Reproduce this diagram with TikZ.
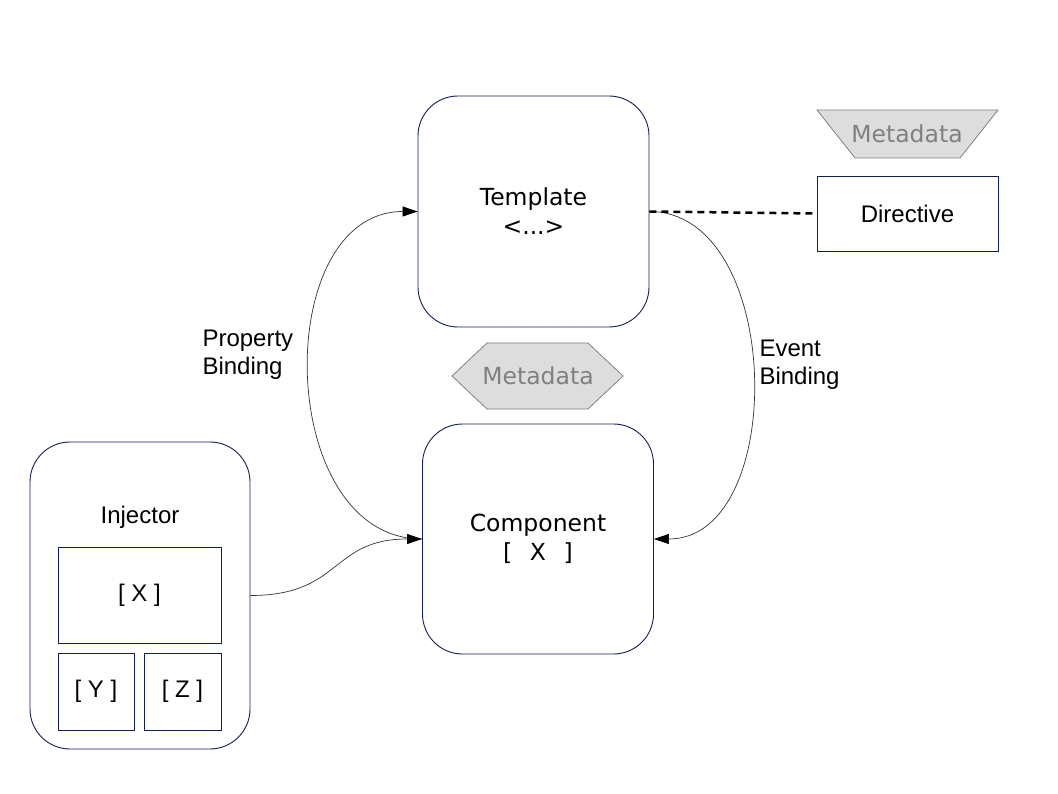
\documentclass[tikz,border=0pt]{standalone}
\usepackage{fontspec}
\setmainfont{Liberation Sans}
\newfontfamily\verafont{DejaVu Sans}
\usepackage{xcolor}
\usepackage{tikz}
\usetikzlibrary{calc,arrows.meta,positioning,shapes}
\definecolor{frame}{RGB}{20,28,96}
\definecolor{metafill}{RGB}{221,221,221}
\definecolor{metaline}{RGB}{128,128,128}

\tikzset{
  bigbox/.style={draw=frame,line width=0.9pt,rounded corners=40pt,align=center,
    font=\verafont\fontsize{23.5}{29}\selectfont},
  slotbox/.style={draw=frame,line width=0.9pt,font=\fontsize{24}{28}\selectfont},
  metashape/.style={draw=metaline,fill=metafill,line width=0.8pt},
  metatext/.style={text=metaline,font=\verafont\fontsize{23.5}{28}\selectfont},
  link/.style={draw=black!80,line width=0.7pt},
  tip/.style={-{Triangle[length=15pt,width=10pt,black]}},
  plain/.style={font=\fontsize{24}{28}\selectfont,align=left,anchor=west}
}

\begin{document}
\begin{tikzpicture}[x=1pt,y=-1pt]
      \useasboundingbox (0,0) rectangle (1058,794);
      % main blocks
      \node[bigbox,minimum width=231pt,minimum height=231pt] (template) at (533.5,211.5)
        {Template\\<...>};
      \node[bigbox,minimum width=231pt,minimum height=230pt] (component) at (538,539)
        {Component\\{}[\hspace{0.75em}X\hspace{0.75em}]};
      \node[slotbox,minimum width=181pt,minimum height=75pt] (directive) at (907.5,213.5)
        {Directive};
      % injector with its slots
      \node[draw=frame,line width=0.9pt,rounded corners=40pt,minimum width=220pt,
        minimum height=307pt] (injector) at (140,595.5) {};
      \node[font=\fontsize{24}{28}\selectfont] (injlabel) at (140,517) {Injector};
      \node[slotbox,minimum width=163pt,minimum height=96pt] (slotX) at (139.5,595) {[ X ]};
      \node[slotbox,minimum width=76pt,minimum height=77pt] (slotY) at (96,691.5) {[ Y ]};
      \node[slotbox,minimum width=77pt,minimum height=77pt] (slotZ) at (182.5,691.5) {[ Z ]};
      % metadata shapes
      \draw[metashape] (817,110) -- (998,110) -- (960,158) -- (855,158) -- cycle;
      \node[metatext] (metaTop) at (907,134) {Metadata};
      \draw[metashape] (452,376) -- (487,343) -- (588,343) -- (623,376) -- (588,409) -- (487,409) -- cycle;
      \node[metatext] (metaMid) at (538,376) {Metadata};
      % bindings
      \draw[link,tip] (component.west) to[out=180,in=180,looseness=1.15] (template.west);
      \draw[link,tip] (template.east) to[out=0,in=0,looseness=1.05] (component.east);
      \draw[link,tip] (injector.east) to[out=0,in=180,looseness=1.3] (component.west);
      \draw[black,line width=2.5pt,dash pattern=on 7pt off 5pt] (template.east) -- (directive.west);
      \node[plain] (propLabel) at (199,355) {Property\\Binding};
      \node[plain] (eventLabel) at (756,365) {Event\\Binding};
    \end{tikzpicture}
\end{document}
